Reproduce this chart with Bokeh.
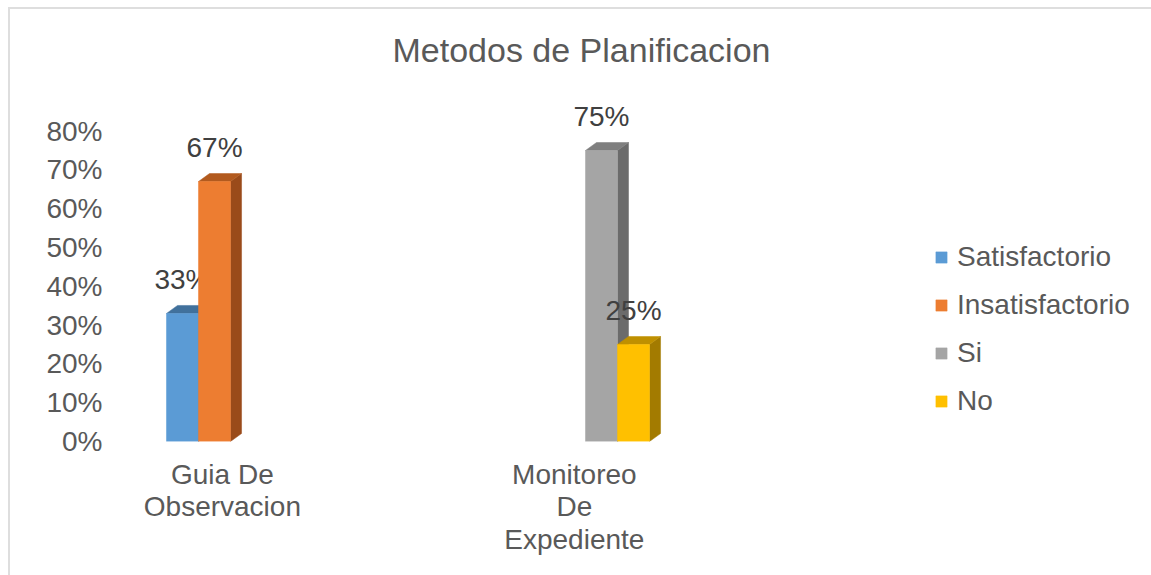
from bokeh.plotting import figure
from bokeh.models import (ColumnDataSource, FixedTicker, NumeralTickFormatter,
                          Legend, LegendItem, Label, Range1d)
from bokeh.core.properties import value
from bokeh.embed import file_html
from bokeh.resources import INLINE

# ---------------- data ----------------
categories = ["Guia De Observacion", "Monitoreo De Expediente"]
category_labels = ["Guia De\nObservacion", "Monitoreo\nDe\nExpediente"]
series_names = ["Satisfactorio", "Insatisfactorio", "Si", "No"]
satisfactorio = [0.33, None]
insatisfactorio = [0.67, None]
si = [None, 0.75]
no = [None, 0.25]
series_values = [satisfactorio, insatisfactorio, si, no]
y_ticks = [0.0, 0.1, 0.2, 0.3, 0.4, 0.5, 0.6, 0.7, 0.8]
title_text = "Metodos de Planificacion"

# ---------------- style ----------------
FONT = "Liberation Sans"
FRONT = ["#5B9BD5", "#ED7D31", "#A5A5A5", "#FFC000"]
TOP = ["#41719C", "#B25A1E", "#7F7F7F", "#BF9000"]
SIDE = ["#3A6590", "#9A4B1A", "#6B6B6B", "#A37B00"]
BAR_W = 0.0764          # bar width in category units
DX, DY = 0.0263, 0.0206  # 3-D depth offset (data units)
LABEL_SHIFT = [0.057, -0.103]  # category label shift (perspective)

p = figure(width=1143, height=568, output_backend="svg", toolbar_location=None,
           x_range=Range1d(-0.1957, 2.2792), y_range=Range1d(0, 1.1134),
           min_border_left=106, min_border_right=0, min_border_top=0,
           min_border_bottom=136, margin=(7, 0, 0, 8),
           styles={"border-top": "2px solid #DEDEDE", "border-left": "2px solid #DEDEDE"})
p.outline_line_color = None
p.xgrid.visible = False
p.ygrid.visible = False
p.background_fill_color = "white"
p.border_fill_color = "white"

# bar positions computed per category (dodged)
legend_items = []
for s, (name, vals) in enumerate(zip(series_names, series_values)):
    xs, hs, lbl = [], [], []
    for i, v in enumerate(vals):
        if v is None:
            continue
        present = [k for k in range(len(series_values)) if series_values[k][i] is not None]
        n = len(present)
        k = present.index(s)
        xs.append(i + (k - (n - 1) / 2) * BAR_W)
        hs.append(v)
        lbl.append(f"{round(v * 100)}%")
    # 3-D faces
    side_x, side_y, top_x, top_y = [], [], [], []
    for c, h in zip(xs, hs):
        r = c + BAR_W / 2
        l = c - BAR_W / 2
        side_x.append([r, r + DX, r + DX, r])
        side_y.append([0, DY, h + DY, h])
        top_x.append([l, l + DX, r + DX, r])
        top_y.append([h, h + DY, h + DY, h])
    p.patches(side_x, side_y, fill_color=SIDE[s], line_color=SIDE[s], line_width=0.5)
    p.patches(top_x, top_y, fill_color=TOP[s], line_color=TOP[s], line_width=0.5)
    src = ColumnDataSource(dict(x=xs, top=hs, label=lbl))
    r = p.vbar(x="x", top="top", width=BAR_W, bottom=0, source=src,
               fill_color=FRONT[s], line_color=FRONT[s], line_width=0.5)
    legend_items.append(LegendItem(label=name, renderers=[r]))
    p.text(x="x", y="top", text="label", source=src, y_offset=-34,
           text_align="center", text_baseline="alphabetic",
           text_font=value(FONT), text_font_size="28px", text_color="#404040")

# axes
for ax in (p.xaxis, p.yaxis):
    ax.axis_line_color = None
    ax.major_tick_line_color = None
    ax.minor_tick_line_color = None
    ax.major_label_text_font = FONT
    ax.major_label_text_font_size = "28px"
    ax.major_label_text_color = "#595959"

p.yaxis.ticker = FixedTicker(ticks=y_ticks)
p.yaxis.formatter = NumeralTickFormatter(format="0%")
p.yaxis.major_label_standoff = 8

x_tick_pos = [i + LABEL_SHIFT[i] for i in range(len(categories))]
p.xaxis.ticker = FixedTicker(ticks=x_tick_pos)
p.xaxis.major_label_overrides = {t: lab for t, lab in zip(x_tick_pos, category_labels)}
p.xaxis.major_label_text_line_height = 1.05
p.xaxis.major_label_standoff = 11

# legend
legend = Legend(items=legend_items, location=(818, 24),
                glyph_width=14, glyph_height=14, label_height=32, spacing=16,
                label_standoff=9, padding=0, margin=0,
                label_text_font=FONT, label_text_font_size="28px",
                label_text_color="#595959",
                border_line_color=None, background_fill_alpha=0)
p.add_layout(legend, "center")

# title
p.add_layout(Label(x=0.914, y=1.010, text=title_text, text_align="center",
                   text_baseline="alphabetic", text_font=FONT,
                   text_font_size="34px", text_color="#595959"))

open("out.html", "w").write(file_html(p, INLINE))
